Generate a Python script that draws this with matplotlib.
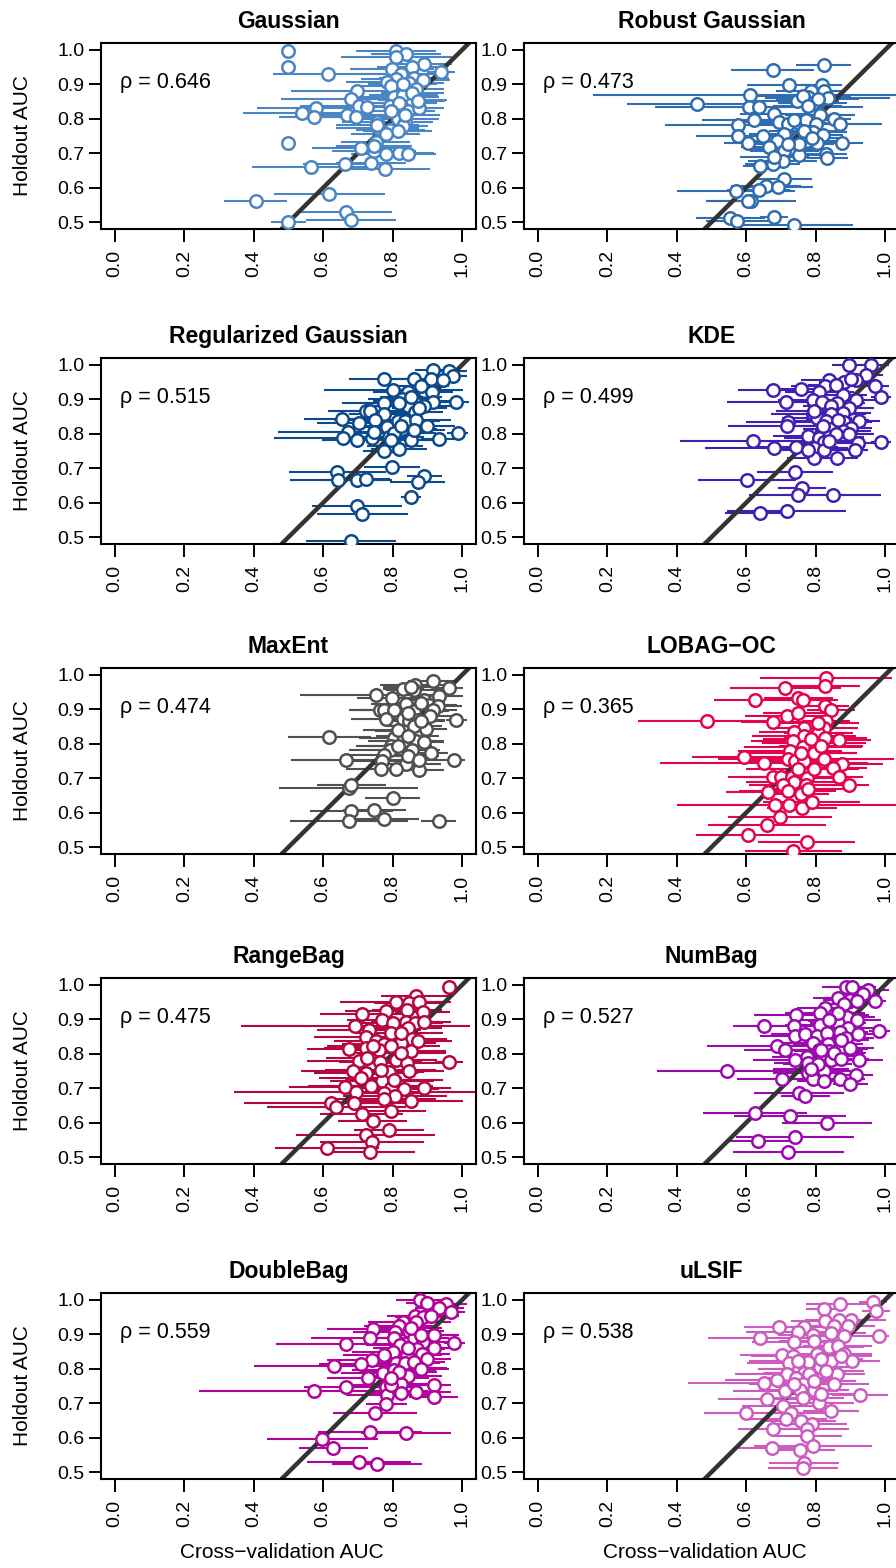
import matplotlib
matplotlib.use("Agg")
import matplotlib.pyplot as plt

plt.rcParams['font.family'] = ['Liberation Sans', 'DejaVu Sans']

# ── panel meta ────────────────────────────────────────────────────────────────
titles = ["Gaussian", "Robust Gaussian", "Regularized Gaussian", "KDE",
          "MaxEnt", "LOBAG\u2212OC", "RangeBag", "NumBag", "DoubleBag", "uLSIF"]
rhos = [0.646, 0.473, 0.515, 0.499, 0.474, 0.365, 0.475, 0.527, 0.559, 0.538]
colors = ["#4A86C3", "#2F6DB0", "#0B4A8C", "#4020B0", "#505050",
          "#E3044F", "#B5083F", "#9A0AAE", "#B2049A", "#CC5CBF"]

# ── data: cross-validation AUC, holdout AUC, half-width of CV interval ───────
gauss_cv = [0.499, 0.499, 0.615, 0.809, 0.838, 0.810, 0.891, 0.855, 0.798, 0.939,
            0.824, 0.862, 0.886, 0.809, 0.785, 0.848, 0.698, 0.795, 0.867, 0.679,
            0.804, 0.857, 0.831, 0.703, 0.727, 0.578, 0.540, 0.573, 0.668, 0.694,
            0.793, 0.843, 0.877, 0.814, 0.754, 0.835, 0.793, 0.757, 0.831, 0.499,
            0.751, 0.708, 0.746, 0.780, 0.819, 0.845, 0.663, 0.737, 0.564, 0.777,
            0.618, 0.405, 0.667, 0.681, 0.499,
            0.829, 0.857, 0.819, 0.795, 0.835, 0.872, 0.756, 0.814, 0.747, 0.780]
gauss_hold = [0.997, 0.949, 0.930, 0.998, 0.987, 0.978, 0.959, 0.950, 0.945, 0.936,
              0.930, 0.918, 0.913, 0.916, 0.907, 0.904, 0.882, 0.894, 0.885, 0.856,
              0.862, 0.854, 0.870, 0.836, 0.834, 0.831, 0.817, 0.805, 0.812, 0.805,
              0.836, 0.824, 0.830, 0.798, 0.791, 0.791, 0.766, 0.774, 0.779, 0.729,
              0.733, 0.716, 0.707, 0.699, 0.702, 0.699, 0.670, 0.673, 0.660, 0.653,
              0.581, 0.560, 0.528, 0.507, 0.501,
              0.901, 0.875, 0.846, 0.822, 0.812, 0.851, 0.781, 0.764, 0.720, 0.755]
gauss_err = [0.0, 0.0, 0.16, 0.115, 0.10, 0.16, 0.08, 0.10, 0.12, 0.04,
             0.12, 0.10, 0.08, 0.10, 0.12, 0.10, 0.19, 0.10, 0.08, 0.20,
             0.13, 0.10, 0.10, 0.17, 0.12, 0.17, 0.17, 0.10, 0.15, 0.10,
             0.10, 0.08, 0.07, 0.12, 0.10, 0.08, 0.10, 0.12, 0.07, 0.0,
             0.10, 0.14, 0.12, 0.10, 0.10, 0.08, 0.12, 0.10, 0.17, 0.13,
             0.16, 0.09, 0.13, 0.13, 0.05,
             0.10, 0.09, 0.11, 0.12, 0.10, 0.08, 0.12, 0.10, 0.11, 0.10]

robust_cv = [0.823, 0.676, 0.722, 0.817, 0.787, 0.610, 0.825, 0.457, 0.835, 0.777,
             0.746, 0.791, 0.607, 0.636, 0.681, 0.812, 0.623, 0.575, 0.695, 0.719,
             0.753, 0.772, 0.801, 0.852, 0.871, 0.575, 0.647, 0.708, 0.791, 0.820,
             0.606, 0.688, 0.775, 0.804, 0.875, 0.666, 0.724, 0.710, 0.751, 0.830,
             0.834, 0.705, 0.676, 0.640, 0.710, 0.657, 0.692, 0.570, 0.636, 0.613,
             0.606, 0.681, 0.554, 0.573, 0.738,
             0.763, 0.806, 0.777, 0.737, 0.767, 0.753, 0.719, 0.681, 0.790]
robust_hold = [0.955, 0.942, 0.897, 0.899, 0.880, 0.868, 0.882, 0.844, 0.859, 0.863,
               0.853, 0.846, 0.834, 0.834, 0.814, 0.812, 0.795, 0.782, 0.791, 0.786,
               0.788, 0.795, 0.784, 0.798, 0.786, 0.750, 0.750, 0.757, 0.763, 0.753,
               0.731, 0.736, 0.736, 0.731, 0.729, 0.718, 0.712, 0.707, 0.695, 0.699,
               0.686, 0.676, 0.670, 0.662, 0.625, 0.606, 0.603, 0.591, 0.593, 0.562,
               0.560, 0.516, 0.512, 0.502, 0.493,
               0.865, 0.856, 0.837, 0.795, 0.764, 0.726, 0.726, 0.688, 0.743]
robust_err = [0.08, 0.12, 0.12, 0.06, 0.10, 0.45, 0.06, 0.20, 0.18, 0.10,
              0.12, 0.10, 0.12, 0.30, 0.10, 0.10, 0.15, 0.21, 0.10, 0.10,
              0.08, 0.10, 0.08, 0.05, 0.12, 0.12, 0.10, 0.10, 0.10, 0.06,
              0.07, 0.10, 0.12, 0.08, 0.06, 0.08, 0.12, 0.10, 0.08, 0.06,
              0.06, 0.10, 0.08, 0.05, 0.08, 0.10, 0.10, 0.17, 0.09, 0.13,
              0.12, 0.04, 0.10, 0.09, 0.17,
              0.14, 0.12, 0.10, 0.12, 0.10, 0.10, 0.11, 0.10, 0.09]

reg_cv = [0.915, 0.963, 0.973, 0.774, 0.860, 0.910, 0.944, 0.802, 0.843, 0.891,
          0.913, 0.828, 0.862, 0.915, 0.981, 0.774, 0.843, 0.889, 0.723, 0.735,
          0.774, 0.865, 0.655, 0.750, 0.814, 0.835, 0.867, 0.703, 0.899, 0.785,
          0.828, 0.670, 0.987, 0.658, 0.697, 0.740, 0.790, 0.853, 0.933, 0.806,
          0.819, 0.774, 0.798, 0.641, 0.643, 0.698, 0.723, 0.891, 0.872, 0.853,
          0.698, 0.713, 0.681,
          0.819, 0.853, 0.877, 0.804, 0.824, 0.795, 0.862, 0.747, 0.881]
reg_hold = [0.986, 0.983, 0.968, 0.959, 0.959, 0.959, 0.955, 0.928, 0.920, 0.923,
            0.920, 0.901, 0.894, 0.892, 0.892, 0.890, 0.880, 0.882, 0.865, 0.865,
            0.856, 0.862, 0.843, 0.839, 0.836, 0.836, 0.841, 0.830, 0.822, 0.820,
            0.814, 0.806, 0.803, 0.788, 0.782, 0.788, 0.791, 0.783, 0.786, 0.764,
            0.756, 0.750, 0.705, 0.689, 0.665, 0.666, 0.668, 0.676, 0.661, 0.615,
            0.589, 0.567, 0.490,
            0.889, 0.908, 0.875, 0.803, 0.822, 0.783, 0.812, 0.806, 0.938]
reg_err = [0.05, 0.05, 0.04, 0.10, 0.10, 0.08, 0.05, 0.20, 0.10, 0.08,
           0.06, 0.10, 0.12, 0.08, 0.04, 0.12, 0.10, 0.08, 0.10, 0.12,
           0.10, 0.08, 0.11, 0.12, 0.10, 0.10, 0.10, 0.12, 0.08, 0.10,
           0.10, 0.20, 0.03, 0.20, 0.10, 0.12, 0.10, 0.08, 0.05, 0.08,
           0.08, 0.06, 0.08, 0.14, 0.14, 0.10, 0.07, 0.05, 0.08, 0.03,
           0.13, 0.13, 0.13,
           0.10, 0.09, 0.08, 0.12, 0.10, 0.11, 0.09, 0.13, 0.08]

kde_cv = [0.897, 0.960, 0.945, 0.881, 0.916, 0.839, 0.828, 0.676, 0.758, 0.811,
          0.971, 0.878, 0.988, 0.714, 0.791, 0.818, 0.862, 0.916, 0.844, 0.897,
          0.878, 0.791, 0.844, 0.804, 0.926, 0.719, 0.830, 0.883, 0.717, 0.844,
          0.902, 0.878, 0.777, 0.809, 0.839, 0.620, 0.988, 0.823, 0.921, 0.681,
          0.743, 0.794, 0.825, 0.912, 0.796, 0.862, 0.740, 0.602, 0.761, 0.748,
          0.849, 0.716, 0.640,
          0.859, 0.902, 0.796, 0.863, 0.820, 0.859, 0.777, 0.897, 0.839]
kde_hold = [1.000, 1.000, 0.971, 0.949, 0.957, 0.955, 0.939, 0.926, 0.930, 0.920,
            0.938, 0.913, 0.907, 0.891, 0.899, 0.891, 0.889, 0.897, 0.880, 0.875,
            0.859, 0.856, 0.856, 0.846, 0.837, 0.834, 0.837, 0.834, 0.824, 0.814,
            0.817, 0.808, 0.793, 0.788, 0.791, 0.779, 0.776, 0.776, 0.772, 0.758,
            0.762, 0.760, 0.752, 0.753, 0.731, 0.731, 0.689, 0.665, 0.642, 0.623,
            0.623, 0.577, 0.570,
            0.942, 0.959, 0.865, 0.841, 0.822, 0.798, 0.753, 0.798, 0.779]
kde_err = [0.05, 0.05, 0.05, 0.07, 0.06, 0.08, 0.10, 0.10, 0.10, 0.10,
           0.04, 0.07, 0.03, 0.17, 0.10, 0.10, 0.08, 0.06, 0.08, 0.07,
           0.08, 0.12, 0.10, 0.10, 0.06, 0.12, 0.10, 0.08, 0.17, 0.08,
           0.06, 0.08, 0.10, 0.10, 0.10, 0.21, 0.03, 0.09, 0.06, 0.20,
           0.12, 0.10, 0.10, 0.04, 0.08, 0.06, 0.11, 0.14, 0.07, 0.14,
           0.14, 0.17, 0.10,
           0.08, 0.06, 0.11, 0.09, 0.10, 0.09, 0.11, 0.07, 0.10]

maxent_cv = [0.915, 0.864, 0.963, 0.831, 0.862, 0.933, 0.753, 0.798, 0.891, 0.838,
             0.906, 0.930, 0.764, 0.776, 0.804, 0.862, 0.915, 0.780, 0.829, 0.871,
             0.908, 0.983, 0.848, 0.829, 0.896, 0.862, 0.618, 0.804, 0.829, 0.867,
             0.795, 0.889, 0.857, 0.910, 0.793, 0.776, 0.667, 0.769, 0.978, 0.838,
             0.766, 0.811, 0.877, 0.674, 0.681, 0.800, 0.681, 0.747, 0.674, 0.776,
             0.933,
             0.853, 0.881, 0.843, 0.881, 0.814, 0.843, 0.814, 0.843, 0.877]
maxent_hold = [0.981, 0.971, 0.962, 0.959, 0.955, 0.938, 0.942, 0.933, 0.928, 0.916,
               0.913, 0.911, 0.899, 0.897, 0.897, 0.894, 0.897, 0.872, 0.872, 0.868,
               0.880, 0.868, 0.865, 0.838, 0.843, 0.851, 0.820, 0.817, 0.808, 0.808,
               0.795, 0.805, 0.783, 0.772, 0.783, 0.766, 0.752, 0.750, 0.754, 0.740,
               0.726, 0.727, 0.724, 0.673, 0.679, 0.642, 0.605, 0.607, 0.577, 0.582,
               0.577,
               0.966, 0.918, 0.889, 0.865, 0.841, 0.822, 0.793, 0.764, 0.754]
maxent_err = [0.07, 0.10, 0.04, 0.06, 0.08, 0.07, 0.22, 0.10, 0.06, 0.10,
              0.08, 0.07, 0.09, 0.10, 0.10, 0.10, 0.07, 0.10, 0.10, 0.08,
              0.06, 0.03, 0.08, 0.08, 0.06, 0.08, 0.12, 0.10, 0.10, 0.08,
              0.10, 0.06, 0.08, 0.05, 0.12, 0.12, 0.16, 0.10, 0.03, 0.10,
              0.10, 0.08, 0.07, 0.20, 0.10, 0.08, 0.12, 0.09, 0.17, 0.10,
              0.05,
              0.08, 0.07, 0.09, 0.07, 0.10, 0.09, 0.10, 0.09, 0.07]

lobag_cv = [0.830, 0.827, 0.712, 0.750, 0.626, 0.763, 0.827, 0.844, 0.716, 0.748,
            0.488, 0.676, 0.830, 0.767, 0.823, 0.737, 0.808, 0.767, 0.828, 0.734,
            0.868, 0.794, 0.763, 0.727, 0.796, 0.594, 0.719, 0.740, 0.825, 0.767,
            0.652, 0.875, 0.849, 0.678, 0.700, 0.732, 0.774, 0.866, 0.738, 0.707,
            0.772, 0.895, 0.663, 0.758, 0.684, 0.722, 0.761, 0.788, 0.697, 0.659,
            0.606, 0.774, 0.736,
            0.806, 0.787, 0.758, 0.796, 0.748, 0.815, 0.777, 0.719]
lobag_hold = [0.990, 0.969, 0.962, 0.933, 0.926, 0.926, 0.909, 0.897, 0.882, 0.888,
              0.867, 0.863, 0.867, 0.846, 0.846, 0.834, 0.832, 0.824, 0.817, 0.808,
              0.810, 0.803, 0.790, 0.779, 0.772, 0.762, 0.757, 0.750, 0.757, 0.750,
              0.743, 0.740, 0.731, 0.705, 0.705, 0.705, 0.702, 0.705, 0.689, 0.680,
              0.680, 0.680, 0.661, 0.654, 0.622, 0.622, 0.615, 0.630, 0.587, 0.564,
              0.536, 0.516, 0.488,
              0.861, 0.813, 0.774, 0.726, 0.726, 0.793, 0.668, 0.663]
lobag_err = [0.19, 0.10, 0.16, 0.10, 0.12, 0.10, 0.07, 0.07, 0.12, 0.10,
             0.20, 0.09, 0.07, 0.10, 0.10, 0.10, 0.10, 0.15, 0.12, 0.12,
             0.09, 0.15, 0.17, 0.15, 0.12, 0.15, 0.20, 0.15, 0.20, 0.12,
             0.30, 0.12, 0.10, 0.13, 0.10, 0.12, 0.10, 0.07, 0.14, 0.10,
             0.14, 0.06, 0.12, 0.08, 0.14, 0.32, 0.10, 0.14, 0.15, 0.17,
             0.15, 0.14, 0.14,
             0.12, 0.14, 0.16, 0.13, 0.15, 0.12, 0.12, 0.14]

range_cv = [0.961, 0.867, 0.809, 0.846, 0.877, 0.711, 0.782, 0.841, 0.886, 0.768,
            0.800, 0.838, 0.864, 0.889, 0.692, 0.732, 0.843, 0.795, 0.723, 0.857,
            0.751, 0.774, 0.824, 0.674, 0.723, 0.761, 0.853, 0.703, 0.727, 0.764,
            0.809, 0.841, 0.963, 0.686, 0.723, 0.790, 0.848, 0.708, 0.769, 0.662,
            0.795, 0.833, 0.889, 0.694, 0.774, 0.806, 0.621, 0.689, 0.853, 0.638,
            0.711, 0.795, 0.742, 0.790, 0.723, 0.740, 0.610, 0.735,
            0.824, 0.795, 0.824, 0.766, 0.804, 0.737, 0.776, 0.742, 0.872]
range_hold = [0.995, 0.968, 0.950, 0.947, 0.949, 0.916, 0.923, 0.928, 0.920, 0.899,
              0.889, 0.891, 0.889, 0.891, 0.880, 0.870, 0.875, 0.860, 0.848, 0.843,
              0.836, 0.827, 0.830, 0.814, 0.817, 0.812, 0.808, 0.779, 0.788, 0.776,
              0.782, 0.772, 0.776, 0.750, 0.745, 0.747, 0.750, 0.731, 0.721, 0.705,
              0.700, 0.697, 0.700, 0.689, 0.687, 0.676, 0.657, 0.657, 0.663, 0.646,
              0.625, 0.633, 0.606, 0.580, 0.565, 0.543, 0.527, 0.516,
              0.860, 0.822, 0.803, 0.754, 0.725, 0.706, 0.668, 0.822, 0.836]
range_err = [0.0, 0.10, 0.16, 0.10, 0.08, 0.12, 0.12, 0.10, 0.08, 0.10,
             0.10, 0.10, 0.08, 0.08, 0.33, 0.15, 0.10, 0.10, 0.15, 0.10,
             0.12, 0.12, 0.10, 0.12, 0.12, 0.10, 0.10, 0.15, 0.12, 0.12,
             0.12, 0.10, 0.04, 0.15, 0.15, 0.10, 0.10, 0.12, 0.15, 0.16,
             0.10, 0.10, 0.08, 0.35, 0.12, 0.15, 0.25, 0.12, 0.15, 0.20,
             0.12, 0.10, 0.10, 0.10, 0.20, 0.15, 0.15, 0.13,
             0.12, 0.14, 0.13, 0.16, 0.14, 0.18, 0.15, 0.13, 0.10]

num_cv = [0.888, 0.904, 0.950, 0.936, 0.863, 0.900, 0.918, 0.972, 0.881, 0.827,
          0.743, 0.813, 0.853, 0.890, 0.919, 0.859, 0.652, 0.738, 0.813, 0.865,
          0.892, 0.983, 0.740, 0.770, 0.803, 0.833, 0.871, 0.921, 0.888, 0.791,
          0.688, 0.835, 0.713, 0.809, 0.837, 0.871, 0.899, 0.774, 0.820, 0.740,
          0.779, 0.843, 0.924, 0.544, 0.777, 0.823, 0.703, 0.791, 0.825, 0.871,
          0.916, 0.900, 0.753, 0.770, 0.625, 0.726, 0.832, 0.741, 0.635, 0.721,
          0.863, 0.839, 0.873, 0.815, 0.854, 0.806, 0.873, 0.787]
num_hold = [0.995, 0.995, 0.986, 0.974, 0.962, 0.957, 0.952, 0.952, 0.945, 0.933,
            0.913, 0.918, 0.913, 0.907, 0.899, 0.894, 0.880, 0.880, 0.885, 0.889,
            0.875, 0.867, 0.853, 0.858, 0.853, 0.859, 0.863, 0.856, 0.846, 0.830,
            0.822, 0.827, 0.812, 0.810, 0.808, 0.814, 0.817, 0.791, 0.793, 0.782,
            0.774, 0.782, 0.782, 0.750, 0.745, 0.750, 0.726, 0.727, 0.721, 0.726,
            0.738, 0.712, 0.686, 0.676, 0.627, 0.618, 0.599, 0.558, 0.546, 0.516,
            0.918, 0.899, 0.841, 0.812, 0.803, 0.769, 0.784, 0.755]
num_err = [0.07, 0.07, 0.06, 0.05, 0.07, 0.08, 0.06, 0.03, 0.06, 0.08,
           0.12, 0.10, 0.10, 0.08, 0.07, 0.08, 0.09, 0.12, 0.10, 0.08,
           0.08, 0.03, 0.10, 0.10, 0.10, 0.10, 0.08, 0.06, 0.08, 0.10,
           0.20, 0.10, 0.12, 0.10, 0.10, 0.08, 0.07, 0.10, 0.10, 0.12,
           0.10, 0.10, 0.07, 0.20, 0.10, 0.08, 0.13, 0.10, 0.08, 0.07,
           0.05, 0.05, 0.13, 0.07, 0.15, 0.16, 0.13, 0.17, 0.09, 0.16,
           0.08, 0.09, 0.08, 0.10, 0.09, 0.10, 0.08, 0.11]

double_cv = [0.880, 0.899, 0.954, 0.934, 0.968, 0.864, 0.886, 0.910, 0.829, 0.867,
             0.817, 0.742, 0.806, 0.848, 0.920, 0.735, 0.804, 0.862, 0.886, 0.665,
             0.978, 0.822, 0.870, 0.920, 0.802, 0.776, 0.841, 0.884, 0.740, 0.810,
             0.836, 0.899, 0.631, 0.708, 0.876, 0.771, 0.804, 0.843, 0.730, 0.824,
             0.573, 0.665, 0.780, 0.918, 0.785, 0.824, 0.867, 0.918, 0.782, 0.749,
             0.735, 0.838, 0.597, 0.629, 0.703, 0.754,
             0.853, 0.881, 0.843, 0.862, 0.819, 0.881, 0.795, 0.795]
double_hold = [1.000, 0.990, 0.988, 0.977, 0.966, 0.954, 0.950, 0.953, 0.937, 0.935,
               0.925, 0.915, 0.908, 0.910, 0.898, 0.890, 0.890, 0.890, 0.879, 0.871,
               0.876, 0.869, 0.857, 0.861, 0.850, 0.840, 0.840, 0.842, 0.825, 0.816,
               0.816, 0.828, 0.809, 0.813, 0.803, 0.789, 0.796, 0.780, 0.774, 0.755,
               0.736, 0.748, 0.748, 0.752, 0.723, 0.731, 0.733, 0.718, 0.697, 0.673,
               0.617, 0.614, 0.597, 0.570, 0.529, 0.524,
               0.917, 0.898, 0.859, 0.820, 0.791, 0.800, 0.752, 0.772]
double_err = [0.07, 0.06, 0.06, 0.07, 0.04, 0.08, 0.08, 0.08, 0.10, 0.10,
              0.10, 0.13, 0.12, 0.10, 0.07, 0.17, 0.10, 0.10, 0.08, 0.20,
              0.03, 0.10, 0.08, 0.07, 0.12, 0.12, 0.10, 0.08, 0.13, 0.10,
              0.10, 0.07, 0.23, 0.12, 0.08, 0.12, 0.12, 0.10, 0.12, 0.10,
              0.33, 0.12, 0.10, 0.05, 0.12, 0.10, 0.10, 0.07, 0.06, 0.12,
              0.15, 0.13, 0.16, 0.10, 0.15, 0.13,
              0.09, 0.08, 0.10, 0.09, 0.11, 0.08, 0.12, 0.11]

ulsif_cv = [0.964, 0.871, 0.823, 0.974, 0.902, 0.828, 0.868, 0.695, 0.765, 0.854,
            0.892, 0.748, 0.791, 0.883, 0.982, 0.640, 0.794, 0.738, 0.839, 0.863,
            0.702, 0.734, 0.804, 0.883, 0.905, 0.722, 0.777, 0.843, 0.753, 0.813,
            0.767, 0.717, 0.782, 0.862, 0.744, 0.652, 0.688, 0.763, 0.854, 0.713,
            0.756, 0.796, 0.928, 0.659, 0.763, 0.809, 0.707, 0.599, 0.729, 0.844,
            0.714, 0.758, 0.790, 0.676, 0.775, 0.775, 0.793, 0.673, 0.756, 0.767,
            0.763,
            0.844, 0.815, 0.830, 0.796, 0.748, 0.873, 0.815, 0.738]
ulsif_hold = [0.993, 0.988, 0.974, 0.969, 0.942, 0.939, 0.942, 0.921, 0.921, 0.923,
              0.923, 0.906, 0.897, 0.894, 0.894, 0.888, 0.882, 0.877, 0.862, 0.865,
              0.841, 0.838, 0.843, 0.843, 0.822, 0.817, 0.820, 0.824, 0.798, 0.805,
              0.788, 0.784, 0.784, 0.786, 0.774, 0.760, 0.766, 0.755, 0.755, 0.736,
              0.738, 0.738, 0.724, 0.712, 0.716, 0.702, 0.692, 0.673, 0.673, 0.676,
              0.654, 0.647, 0.639, 0.625, 0.625, 0.606, 0.575, 0.570, 0.563, 0.527,
              0.512,
              0.904, 0.827, 0.793, 0.764, 0.822, 0.837, 0.726, 0.755]
ulsif_err = [0.04, 0.10, 0.05, 0.04, 0.10, 0.10, 0.10, 0.10, 0.10, 0.10,
             0.08, 0.15, 0.10, 0.08, 0.03, 0.15, 0.10, 0.12, 0.10, 0.10,
             0.12, 0.12, 0.10, 0.08, 0.08, 0.12, 0.12, 0.10, 0.12, 0.10,
             0.12, 0.15, 0.12, 0.08, 0.10, 0.22, 0.15, 0.12, 0.10, 0.15,
             0.12, 0.10, 0.08, 0.14, 0.12, 0.10, 0.12, 0.12, 0.10, 0.08,
             0.12, 0.10, 0.10, 0.10, 0.12, 0.10, 0.17, 0.10, 0.10, 0.10,
             0.10,
             0.10, 0.12, 0.11, 0.12, 0.14, 0.09, 0.12, 0.13]

panel_data = [
    (gauss_cv, gauss_hold, gauss_err),
    (robust_cv, robust_hold, robust_err),
    (reg_cv, reg_hold, reg_err),
    (kde_cv, kde_hold, kde_err),
    (maxent_cv, maxent_hold, maxent_err),
    (lobag_cv, lobag_hold, lobag_err),
    (range_cv, range_hold, range_err),
    (num_cv, num_hold, num_err),
    (double_cv, double_hold, double_err),
    (ulsif_cv, ulsif_hold, ulsif_err),
]

# ── layout (pixels) ───────────────────────────────────────────────────────────
W, H = 896, 1568
COL_X = [101, 524]
ROW_TOP = [43, 358, 668, 978, 1293]
BOX_W, BOX_H = 375, 186
TICK_FS = 14
LABEL_FS = 15

fig = plt.figure(figsize=(W / 100, H / 100), dpi=100)

for i, (title, rho, col, (cv, hold, err)) in enumerate(zip(titles, rhos, colors, panel_data)):
    r, c = divmod(i, 2)
    x0, top = COL_X[c], ROW_TOP[r]
    ax = fig.add_axes([x0 / W, 1 - (top + BOX_H) / H, BOX_W / W, BOX_H / H])

    ax.errorbar(cv, hold, xerr=err, fmt="none", ecolor=col, elinewidth=1.5,
                capsize=0, zorder=1)
    ax.axline((0, 0), (1, 1), color="#333333", lw=3.2, zorder=2)
    ax.plot(cv, hold, "o", mfc="white", mec=col, mew=1.8, ms=9, zorder=3)

    ax.set_xlim(-0.04, 1.04)
    ax.set_ylim(0.48, 1.02)
    ax.set_xticks([0.0, 0.2, 0.4, 0.6, 0.8, 1.0])
    ax.set_yticks([0.5, 0.6, 0.7, 0.8, 0.9, 1.0])
    ax.set_xticklabels([f"{v:.1f}" for v in ax.get_xticks()], rotation=90)
    ax.set_yticklabels([f"{v:.1f}" for v in ax.get_yticks()])
    ax.tick_params(axis="both", length=9, width=1.4, labelsize=TICK_FS, colors="black")
    ax.tick_params(axis="x", pad=6)
    ax.tick_params(axis="y", pad=3)
    for sp in ax.spines.values():
        sp.set_linewidth(1.5)

    ax.set_title(title, fontsize=16.5, fontweight="bold", pad=11)
    ax.text(0.015, 0.905, f"\u03c1 = {rho:.3f}", fontsize=15.5, va="center", ha="left")

    if c == 0:
        fig.text(22 / W, 1 - (top + BOX_H / 2) / H, "Holdout AUC", rotation=90,
                 ha="center", va="center", fontsize=LABEL_FS)
    if r == 4:
        fig.text((x0 + 181) / W, 1 - 1553 / H, "Cross\u2212validation AUC",
                 ha="center", va="center", fontsize=LABEL_FS)

fig.savefig("out.png", dpi=100)
